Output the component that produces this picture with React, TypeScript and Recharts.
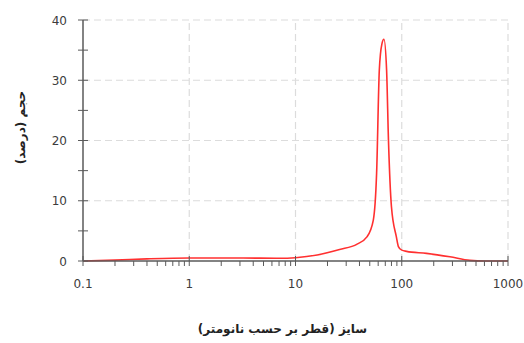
import { LineChart, Line, XAxis, YAxis, ReferenceLine } from "recharts";

// particle size (nm) vs volume (%)
const sizes = [0.1, 0.2, 0.4, 1, 3, 7, 10, 16, 26, 38, 47, 54, 58, 61.5, 65, 68, 72, 75, 80, 89, 93, 100, 111, 171, 284, 438, 600, 1000];
const volume = [0, 0.15, 0.35, 0.5, 0.5, 0.45, 0.55, 1.0, 1.9, 2.8, 4.0, 6.8, 14.6, 31.7, 36, 36.8, 31.7, 20, 9, 4, 2.4, 1.8, 1.6, 1.27, 0.7, 0.1, 0, 0];

const xMajor = [0.1, 1, 10, 100, 1000];
const xMinor = [0.2, 0.3, 0.4, 0.5, 0.6, 0.7, 0.8, 0.9, 2, 3, 4, 5, 6, 7, 8, 9, 20, 30, 40, 50, 60, 70, 80, 90, 200, 300, 400, 500, 600, 700, 800, 900];
const yMajor = [0, 10, 20, 30, 40];
const yMinor = [5, 15, 25, 35];

const xTitle = "سایز (قطر بر حسب نانومتر)";
const yTitle = "حجم (درصد)";

const data = sizes.map((s, i) => ({ size: s, volume: volume[i] }));

const AXIS = "#5a5a5a";
const TEXT = "#3c3c3c";
const GRID = "#dcdcdc";
const font = "'DejaVu Sans', sans-serif";

// eslint-disable-next-line @typescript-eslint/no-explicit-any
const XTick = ({ x, y, payload }: any) => {
  const major = xMajor.includes(payload.value);
  return (
    <g>
      <line x1={x} x2={x} y1={major ? y - 5 : y} y2={y + 5} stroke={AXIS} strokeWidth={1} />
      {major && (
        <text x={x} y={y + 27} textAnchor="middle" fill={TEXT} fontSize={12} fontFamily={font}>
          {payload.value}
        </text>
      )}
    </g>
  );
};

// eslint-disable-next-line @typescript-eslint/no-explicit-any
const YTick = ({ x, y, payload }: any) => {
  const major = yMajor.includes(payload.value);
  return (
    <g>
      <line x1={x - 5} x2={x + 5} y1={y} y2={y} stroke={AXIS} strokeWidth={1} />
      {major && (
        <text x={x - 16} y={y + 4.5} textAnchor="end" fill={TEXT} fontSize={12} fontFamily={font}>
          {payload.value}
        </text>
      )}
    </g>
  );
};

export default function App() {
  return (
    <div style={{ position: "absolute", left: 0, top: 0, width: 524, height: 343, background: "#fff" }}>
      <LineChart width={524} height={343} data={data} margin={{ top: 20, right: 16, bottom: 0, left: 0 }}>
        {[1, 10, 100, 1000].map((v) => (
          <ReferenceLine key={"x" + v} x={v} stroke={GRID} strokeDasharray="7 4" strokeWidth={1.2} />
        ))}
        {[10, 20, 30, 40].map((v) => (
          <ReferenceLine key={"y" + v} y={v} stroke={GRID} strokeDasharray="7 4" strokeWidth={1.2} />
        ))}
        <XAxis
          dataKey="size"
          type="number"
          scale="log"
          domain={[0.1, 1000]}
          allowDataOverflow
          ticks={[...xMajor, ...xMinor]}
          interval={0}
          tick={<XTick />}
          tickLine={false}
          tickSize={0}
          tickMargin={0}
          axisLine={{ stroke: AXIS, strokeWidth: 1.5 }}
          height={82}
          label={{ value: xTitle, position: "insideBottom", offset: 10, dx: -13, fill: "#222", fontSize: 12, fontWeight: "bold", fontFamily: font }}
        />
        <YAxis
          type="number"
          domain={[0, 40]}
          ticks={[...yMajor, ...yMinor]}
          interval={0}
          tick={<YTick />}
          tickLine={false}
          tickSize={0}
          tickMargin={0}
          axisLine={{ stroke: AXIS, strokeWidth: 1.5 }}
          width={83}
          label={{ value: yTitle, angle: -90, position: "center", dx: -21, dy: -13, fill: "#222", fontSize: 12, fontWeight: "bold", fontFamily: font }}
        />
        <Line
          type="monotone"
          dataKey="volume"
          stroke="#ff3030"
          strokeWidth={1.6}
          dot={false}
          isAnimationActive={false}
        />
      </LineChart>
    </div>
  );
}
